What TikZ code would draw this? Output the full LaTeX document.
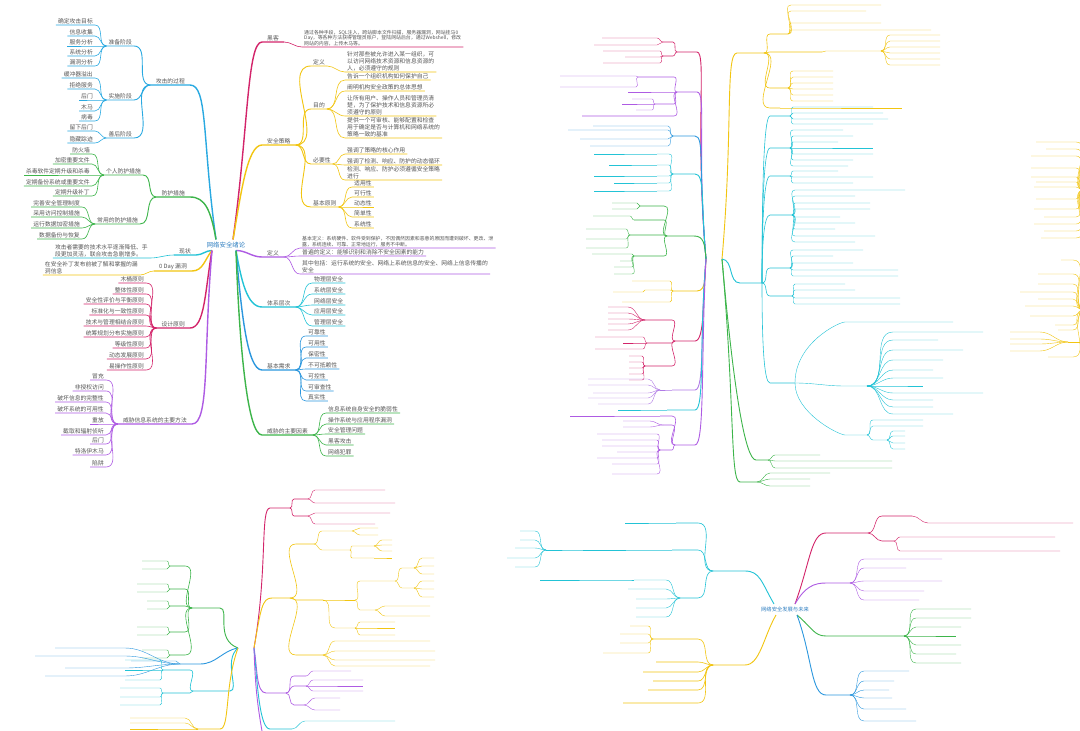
\documentclass[tikz,border=0pt]{standalone}
\usepackage{fontspec}
\setmainfont{Noto Sans CJK SC}
\usetikzlibrary{calc}
\definecolor{txt}{HTML}{555555}
\definecolor{rootc}{HTML}{2F7FC1}
\definecolor{cA}{HTML}{29A9E1}
\definecolor{cG}{HTML}{3DB54A}
\definecolor{cC}{HTML}{22C3D6}
\definecolor{cY}{HTML}{F2C511}
\definecolor{cR}{HTML}{D3246A}
\definecolor{cP}{HTML}{AE5BE3}
\definecolor{cB}{HTML}{2B97DE}
\definecolor{cL}{HTML}{B07AE6}
\tikzset{
 lab/.style={font=\fontsize{5.8}{6.8}\selectfont,text=txt,inner xsep=2pt,inner ysep=0.8pt,align=left},
 mlab/.style={inner xsep=5pt},
 sml/.style={font=\fontsize{4.9}{5.6}\selectfont},
 rootlab/.style={font=\fontsize{6.4}{7.5}\selectfont,text=rootc,inner sep=1pt},
 lc/.style={out=180,in=0},
 rc/.style={out=0,in=180},
 w0/.style={line width=.4pt},
 w1/.style={line width=.6pt},
 w2/.style={line width=.9pt},
 w3/.style={line width=1.4pt},
 line cap=round
}
\newcommand\Lc[6][]{%
 \node[lab,anchor=south east,#1] (#4) at #5 {#6};
 \draw[lc,#2] (#3) to (#4.south east) -- (#4.south west);}
\newcommand\Rc[6][]{%
 \node[lab,anchor=south west,#1] (#4) at #5 {#6};
 \draw[rc,#2] (#3) to (#4.south west) -- (#4.south east);}
\newcommand\Ll[5]{\coordinate (#3) at #4; \coordinate (#3w) at ($#4+(-#5,0)$);
 \draw[lc,#1] (#2) to (#3) -- (#3w);}
\newcommand\Rl[5]{\coordinate (#3) at #4; \coordinate (#3e) at ($#4+(#5,0)$);
 \draw[rc,#1] (#2) to (#3) -- (#3e);}
\newcommand\Lx[4]{\draw[lc,#1] (#2) to #3 -- ++(-#4,0);}
\newcommand\Rx[4]{\draw[rc,#1] (#2) to #3 -- ++(#4,0);}
\begin{document}
\begin{tikzpicture}[x=1pt,y=1pt]
\fill[white] (0,0) rectangle (1080,-731);
\useasboundingbox (0,0) rectangle (1080,-731);
%% ================= MAP 1 : top left =================
\node[rootlab] (R1) at (226,-245) {网络安全绪论};
\coordinate (R1Lt) at (216,-239.5);
\coordinate (R1Rt) at (233,-239.5);
\coordinate (R1Lb) at (212,-250.5);
\coordinate (R1Rb) at (236,-250.5);
% left side
\Lc[mlab]{cA,w3,out=98,in=0,out distance=100pt,in distance=18pt}{R1Lt}{a1}{(190,-85)}{攻击的过程}
\Lc{cA,w2}{a1.south west}{a11}{(134,-46)}{准备阶段}
\Lc{cA,w1}{a11.south west}{a111}{(95,-25)}{确定攻击目标}
\Lc{cA,w1}{a11.south west}{a112}{(95,-36)}{信息收集}
\Lc{cA,w1}{a11.south west}{a113}{(95,-46)}{服务分析}
\Lc{cA,w1}{a11.south west}{a114}{(95,-56)}{系统分析}
\Lc{cA,w1}{a11.south west}{a115}{(95,-66)}{漏洞分析}
\Lc{cA,w2}{a1.south west}{a12}{(134,-100)}{实施阶段}
\Lc{cA,w1}{a12.south west}{a121}{(95,-78)}{缓冲器溢出}
\Lc{cA,w1}{a12.south west}{a122}{(95,-89)}{拒绝服务}
\Lc{cA,w1}{a12.south west}{a123}{(95,-100)}{后门}
\Lc{cA,w1}{a12.south west}{a124}{(95,-111)}{木马}
\Lc{cA,w1}{a12.south west}{a125}{(95,-121)}{病毒}
\Lc{cA,w2}{a1.south west}{a13}{(134,-138)}{善后阶段}
\Lc{cA,w1}{a13.south west}{a131}{(95,-131)}{留下后门}
\Lc{cA,w1}{a13.south west}{a132}{(95,-143)}{隐藏踪迹}
\Lc[mlab]{cG,w3,out=100,in=0,out distance=30pt,in distance=15pt}{R1Lt}{b1}{(190,-197)}{防护措施}
\Lc{cG,w2}{b1.south west}{b11}{(143,-175)}{个人防护措施}
\Lc{cG,w1}{b11.south west}{b111}{(92,-154)}{防火墙}
\Lc{cG,w1}{b11.south west}{b112}{(92,-164)}{加密重要文件}
\Lc{cG,w1}{b11.south west}{b113}{(92,-175)}{杀毒软件定期升级和杀毒}
\Lc{cG,w1}{b11.south west}{b114}{(92,-186)}{定期备份系统或重要文件}
\Lc{cG,w1}{b11.south west}{b115}{(92,-196)}{定期升级补丁}
\Lc{cG,w2}{b1.south west}{b12}{(140,-224)}{常用的防护措施}
\Lc{cG,w1}{b12.south west}{b121}{(82,-207)}{完善安全管理制度}
\Lc{cG,w1}{b12.south west}{b122}{(82,-217)}{采用访问控制措施}
\Lc{cG,w1}{b12.south west}{b123}{(82,-228)}{运行数据加密措施}
\Lc{cG,w1}{b12.south west}{b124}{(82,-239)}{数据备份与恢复}
\Lc[mlab]{cC,w3,out=180,in=0}{R1Lb}{c1}{(196,-255)}{现状}
\Lc{cC,w1}{c1.south west}{c11}{(150,-258)}{攻击者需要的技术水平逐渐降低、手\\段更加灵活，联合攻击急剧增多。}
\Lc[mlab]{cY,w3,out=230,in=0}{R1Lb}{d1}{(192,-271)}{0 Day 漏洞}
\Lc{cY,w1}{d1.south west}{d11}{(140,-275)}{在安全补丁发布前被了解和掌握的漏\\洞信息}
\Lc[mlab]{cR,w3,out=-100,in=0,out distance=40pt,in distance=15pt}{R1Lb}{e1}{(190,-328)}{设计原则}
\Lc{cR,w1}{e1.south west}{e11}{(146,-283)}{木桶原则}
\Lc{cR,w1}{e1.south west}{e12}{(146,-294)}{整体性原则}
\Lc{cR,w1}{e1.south west}{e13}{(146,-304)}{安全性评价与平衡原则}
\Lc{cR,w1}{e1.south west}{e14}{(146,-315)}{标准化与一致性原则}
\Lc{cR,w1}{e1.south west}{e15}{(146,-326)}{技术与管理相结合原则}
\Lc{cR,w1}{e1.south west}{e16}{(146,-337)}{统筹规划分布实施原则}
\Lc{cR,w1}{e1.south west}{e17}{(146,-348)}{等级性原则}
\Lc{cR,w1}{e1.south west}{e18}{(146,-359)}{动态发展原则}
\Lc{cR,w1}{e1.south west}{e19}{(146,-370)}{易操作性原则}
\Lc[mlab]{cP,w3,out=-95,in=0,out distance=100pt,in distance=18pt}{R1Lb}{f1}{(192,-424)}{威胁信息系统的主要方法}
\Lc{cP,w1}{f1.south west}{f11}{(106,-380)}{冒充}
\Lc{cP,w1}{f1.south west}{f12}{(106,-391)}{非授权访问}
\Lc{cP,w1}{f1.south west}{f13}{(106,-402)}{破坏信息的完整性}
\Lc{cP,w1}{f1.south west}{f14}{(106,-413)}{破坏系统的可用性}
\Lc{cP,w1}{f1.south west}{f15}{(106,-424)}{重放}
\Lc{cP,w1}{f1.south west}{f16}{(106,-435)}{截取和辐射侦听}
\Lc{cP,w1}{f1.south west}{f17}{(106,-444)}{后门}
\Lc{cP,w1}{f1.south west}{f18}{(106,-455)}{特洛伊木马}
\Lc{cP,w1}{f1.south west}{f19}{(106,-467)}{陷阱}
% right side
\Rc[mlab]{cR,w3,out=82,in=180,out distance=110pt,in distance=15pt}{R1Rt}{g1}{(262,-42)}{黑客}
\Rc[sml]{cR,w1}{g1.south east}{g11}{(302,-47)}{通过各种手段，SQL注入，跨站脚本文件扫描，服务器漏洞，网站挂马0\\Day，等各种方法获得管理员账户，登陆网站后台，通过Webshell，修改\\网站的内容，上传木马等。}
\Rc[mlab]{cY,w3,out=80,in=180,out distance=45pt,in distance=15pt}{R1Rt}{h1}{(262,-145)}{安全策略}
\Rc{cY,w2}{h1.south east}{h11}{(311,-66)}{定义}
\Rc{cY,w1}{h11.south east}{h111}{(345,-72)}{针对那些被允许进入某一组织，可\\以访问网络技术资源和信息资源的\\人，必须遵守的规则}
\Rc{cY,w2}{h1.south east}{h12}{(311,-109)}{目的}
\Rc{cY,w1}{h12.south east}{h121}{(345,-80)}{告诉一个组织机构如何保护自己}
\Rc{cY,w1}{h12.south east}{h122}{(345,-91)}{阐明机构安全政策的总体思想}
\Rc{cY,w1}{h12.south east}{h123}{(345,-116)}{让所有用户、操作人员和管理员清\\楚，为了保护技术和信息资源所必\\须遵守的原则}
\Rc{cY,w1}{h12.south east}{h124}{(345,-138)}{提供一个可审核、能够配置和检查\\用于确定是否与计算机和网络系统的\\策略一致的基准}
\Rc{cY,w2}{h1.south east}{h13}{(311,-164)}{必要性}
\Rc{cY,w1}{h13.south east}{h131}{(345,-154)}{强调了策略的核心作用}
\Rc{cY,w1}{h13.south east}{h132}{(345,-165)}{强调了检测、响应、防护的动态循环}
\Rc{cY,w1}{h13.south east}{h133}{(345,-180)}{检测、响应、防护必须遵循安全策略\\进行}
\Rc{cY,w2}{h1.south east}{h14}{(311,-207)}{基本原则}
\Rc{cY,w1}{h14.south east}{h141}{(352,-187)}{适用性}
\Rc{cY,w1}{h14.south east}{h142}{(352,-197)}{可行性}
\Rc{cY,w1}{h14.south east}{h143}{(352,-207)}{动态性}
\Rc{cY,w1}{h14.south east}{h144}{(352,-217)}{简单性}
\Rc{cY,w1}{h14.south east}{h145}{(352,-228)}{系统性}
\Rc[mlab]{cP,w3,out=0,in=180}{R1Rb}{i1}{(262,-257)}{定义}
\Rc[sml]{cP,w1}{i1.south east}{i11}{(300,-248)}{基本定义：系统硬件、软件受到保护，不因偶然因素和恶意的原因而遭到破坏、更改、泄\\露，系统连续、可靠、正常地运行，服务不中断。}
\Rc{cP,w1}{i1.south east}{i12}{(300,-256)}{普遍的定义：能够识别和消除不安全因素的能力}
\Rc{cP,w1}{i1.south east}{i13}{(300,-274)}{其中包括：运行系统的安全、网络上系统信息的安全、网络上信息传播的\\安全}
\Rc[mlab]{cC,w3,out=-80,in=180,out distance=30pt,in distance=15pt}{R1Rb}{j1}{(262,-307)}{体系层次}
\Rc{cC,w1}{j1.south east}{j11}{(312,-283)}{物理层安全}
\Rc{cC,w1}{j1.south east}{j12}{(312,-294)}{系统层安全}
\Rc{cC,w1}{j1.south east}{j13}{(312,-305)}{网络层安全}
\Rc{cC,w1}{j1.south east}{j14}{(312,-315)}{应用层安全}
\Rc{cC,w1}{j1.south east}{j15}{(312,-326)}{管理层安全}
\Rc[mlab]{cB,w3,out=-85,in=180,out distance=60pt,in distance=15pt}{R1Rb}{k1}{(262,-370)}{基本需求}
\Rc{cB,w1}{k1.south east}{k11}{(306,-336)}{可靠性}
\Rc{cB,w1}{k1.south east}{k12}{(306,-347)}{可用性}
\Rc{cB,w1}{k1.south east}{k13}{(306,-358)}{保密性}
\Rc{cB,w1}{k1.south east}{k14}{(306,-369)}{不可抵赖性}
\Rc{cB,w1}{k1.south east}{k15}{(306,-380)}{可控性}
\Rc{cB,w1}{k1.south east}{k16}{(306,-391)}{可审查性}
\Rc{cB,w1}{k1.south east}{k17}{(306,-401)}{真实性}
\Rc[mlab]{cG,w3,out=-88,in=180,out distance=90pt,in distance=15pt}{R1Rb}{l1}{(262,-435)}{威胁的主要因素}
\Rc{cG,w1}{l1.south east}{l11}{(326,-413)}{信息系统自身安全的脆弱性}
\Rc{cG,w1}{l1.south east}{l12}{(326,-424)}{操作系统与应用程序漏洞}
\Rc{cG,w1}{l1.south east}{l13}{(326,-434)}{安全管理问题}
\Rc{cG,w1}{l1.south east}{l14}{(326,-445)}{黑客攻击}
\Rc{cG,w1}{l1.south east}{l15}{(326,-456)}{网络犯罪}
%% ================= MAP 2 : top right (skeleton) =================
\coordinate (Q1) at (706,-259); \coordinate (Q2) at (722,-259);
\Ll{cR,w2,out=95,in=0,out distance=130pt,in distance=10pt}{Q1}{q1}{(697,-52)}{20}
\Ll{cR,w1}{q1w}{q11}{(673,-42)}{10}
\foreach \y/\l in {-38/55,-45/63} {\Lx{cR,w0}{q11w}{(657,\y)}{\l}}
\Ll{cR,w1}{q1w}{q12}{(673,-56)}{10}
\foreach \y/\l in {-51/57,-57/35,-63/57} {\Lx{cR,w0}{q12w}{(660,\y)}{\l}}
\Ll{cP,w2,out=95,in=0,out distance=110pt,in distance=10pt}{Q1}{q2}{(697,-92)}{20}
\Ll{cP,w1}{q2w}{q21}{(674,-77)}{36}
\foreach \y/\l in {-76/76,-87/76} {\Lx{cP,w0}{q21w}{(636,\y)}{\l}}
\Lx{cP,w1}{q2w}{(674,-92)}{46}
\Ll{cP,w1}{q2w}{q23}{(674,-104)}{19}
\foreach \y/\l in {-99/20,-104/30,-110/16} {\Lx{cP,w0}{q23w}{(652,\y)}{\l}}
\Lx{cP,w1}{q2w}{(674,-116)}{92}
\Ll{cB,w2,out=95,in=0,out distance=90pt,in distance=10pt}{Q1}{q3}{(695,-136)}{22}
\foreach \y/\l in {-126/75,-130/100,-139/88,-146/78} {\Lx{cB,w0}{q3w}{(668,\y)}{\l}}
\Ll{cC,w2,out=95,in=0,out distance=60pt,in distance=10pt}{Q1}{q4}{(695,-174)}{22}
\foreach \y/\l [count=\i] in {-154/60,-165/45,-176/60,-183/40,-191/60} {\Ll{cC,w0}{q4w}{q4t\i}{(669,\y)}{12}\Lx{cC,w0}{q4t\i w}{(654,\y)}{\l}}
\Ll{cG,w2,out=95,in=0,out distance=15pt,in distance=10pt}{Q1}{q5}{(694,-236)}{27}
\Ll{cG,w1}{q5w}{q51}{(664,-206)}{24}
\foreach \y/\l in {-203/25,-209/25} {\Lx{cG,w0}{q51w}{(637,\y)}{\l}}
\Ll{cG,w1}{q5w}{q52}{(664,-220)}{30}
\Lx{cG,w0}{q52w}{(630,-216)}{37}
\Ll{cG,w1}{q5w}{q53}{(664,-235)}{34}
\foreach \y/\l in {-229/40,-239/40,-248/40} {\Lx{cG,w0}{q53w}{(626,\y)}{\l}}
\Ll{cG,w1}{q5w}{q54}{(664,-256)}{30}
\foreach \y/\l in {-254/40,-261/12,-267/18,-274/18} {\Lx{cG,w0}{q54w}{(632,\y)}{\l}}
\Ll{cY,w2,out=-95,in=0,out distance=15pt,in distance=10pt}{Q1}{q6}{(697,-291)}{24}
\foreach \y/\l in {-281/38,-302/48} {\Lx{cY,w0}{q6w}{(670,\y)}{\l}}
\Ll{cY,w0}{q6w}{q62}{(670,-290)}{25}
\Lx{cY,w0}{q62w}{(643,-292)}{30}
\Ll{cR,w2,out=-95,in=0,out distance=40pt,in distance=10pt}{Q1}{q7}{(695,-341)}{20}
\Ll{cR,w1}{q7w}{q71}{(672,-320)}{27}
\foreach \y in {-307,-313,-319,-324,-330} {\Lx{cR,w0}{q71w}{(628,\y)}{20}}
\Ll{cR,w1}{q7w}{q72}{(672,-343)}{25}
\foreach \y/\l in {-337/48,-343/20,-349/48} {\Lx{cR,w0}{q72w}{(643,\y)}{\l}}
\Ll{cR,w1}{q7w}{q73}{(672,-366)}{27}
\foreach \y in {-356,-362,-368,-374,-380} {\Lx{cR,w0}{q73w}{(642,\y)}{13}}
\Ll{cL,w2,out=-95,in=0,out distance=70pt,in distance=10pt}{Q1}{q8}{(695,-390)}{23}
\Ll{cL,w1}{q8w}{q81}{(670,-390)}{10}
\foreach \y/\l in {-379/60,-385/60,-393/55,-398/60,-404/50} {\Lx{cL,w0}{q81w}{(648,\y)}{\l}}
\Ll{cC,w2,out=-95,in=0,out distance=80pt,in distance=10pt}{Q1}{q9}{(695,-410)}{28}
\Lx{cC,w0}{q9w}{(663,-410)}{45}
\Ll{cP,w2,out=-93,in=0,out distance=100pt,in distance=10pt}{Q1}{q10}{(695,-445)}{20}
\Ll{cP,w1}{q10w}{q101}{(672,-416)}{12}
\Lx{cP,w0}{q101w}{(658,-416)}{88}
\Ll{cP,w1}{q10w}{q102}{(672,-425)}{9}
\foreach \y in {-421,-427} {\Lx{cP,w0}{q102w}{(650,\y)}{27}}
\Ll{cP,w1}{q10w}{q103}{(672,-450)}{12}
\foreach \y/\l in {-434/60,-440/55,-446/55,-452/40,-458/60,-464/45,-474/45} {\Lx{cP,w0}{q103w}{(657,\y)}{\l}}
\Rl{cG,w2,out=-85,in=180,out distance=150pt,in distance=10pt}{Q2}{qg1}{(740,-482)}{17}
\foreach \y/\l in {-473/60,-479/40,-486/40} {\Rx{cG,w0}{qg1e}{(770,\y)}{\l}}
\Rl{cG,w2,out=-85,in=180,out distance=140pt,in distance=10pt}{Q2}{qg2}{(756,-460)}{12}
\foreach \y/\l in {-455/45,-461/117,-468/117} {\Rx{cG,w0}{qg2e}{(775,\y)}{\l}}
\Rl{cY,w2,out=85,in=180,out distance=130pt,in distance=12pt}{Q2}{y1}{(737,-53)}{27}
\Rl{cY,w1}{y1e}{y11}{(770,-34)}{18}
\foreach \y/\l in {-5/90,-11/75,-23/90,-30/140} {\Rx{cY,w0}{y11e}{(791,\y)}{\l}}
\Rl{cY,w1}{y1e}{y12}{(770,-52)}{52}
\Rl{cY,w0}{y12e}{y121}{(826,-51)}{55}
\foreach \y in {-35,-41,-47,-53,-59,-65} {\Rx{cY,w0}{y121e}{(890,\y)}{50}}
\Rl{cY,w1}{y1e}{y13}{(770,-88)}{18}
\foreach \y in {-71,-77,-83,-89,-95,-101} {\Rx{cY,w0}{y13e}{(793,\y)}{40}}
\Rl{cY,w1}{y1e}{y14}{(770,-108)}{10}
\Rx{cY,w0}{y14e}{(782,-108)}{120}
\Rl{cC,w2,out=-5,in=180}{Q2}{z1}{(740,-283)}{22}
\Rl{cC,w1,out=90,in=180,out distance=100pt,in distance=6pt}{z1e}{z2}{(770,-116)}{20}
\foreach \y/\l in {-107/80,-113/90,-119/95,-124/80} {\Rx{cC,w0}{z2e}{(793,\y)}{\l}}
\Rl{cC,w1,out=90,in=180,out distance=80pt,in distance=6pt}{z1e}{z3}{(770,-148)}{20}
\foreach \y/\l in {-130/50,-136/60,-142/45,-148/80,-154/80,-160/60,-166/55} {\Rx{cC,w0}{z3e}{(793,\y)}{\l}}
\Rl{cC,w1,out=90,in=180,out distance=60pt,in distance=6pt}{z1e}{z4}{(770,-176)}{20}
\foreach \y/\l in {-171/45,-177/80,-183/60} {\Rx{cC,w0}{z4e}{(793,\y)}{\l}}
\Rl{cC,w1,out=90,in=180,out distance=40pt,in distance=6pt}{z1e}{z5}{(770,-215)}{22}
\foreach \y/\l in {-190/110,-196/60,-203/75,-209/75,-217/45,-223/60,-229/40,-236/80,-242/60} {\Rx{cC,w0}{z5e}{(795,\y)}{\l}}
\Rl{cC,w1}{z1e}{z6}{(770,-268)}{20}
\foreach \y/\l in {-250/70,-256/40,-263/60,-270/105,-276/105} {\Rx{cC,w0}{z6e}{(793,\y)}{\l}}
\Rl{cC,w1}{z1e}{z7}{(770,-296)}{22}
\foreach \y/\l in {-284/50,-290/60,-298/105,-304/105} {\Rx{cC,w0}{z7e}{(795,\y)}{\l}}
\Rl{cC,w1,out=-90,in=180,out distance=60pt,in distance=6pt}{z1e}{z8}{(770,-383)}{25}
\Rx{cC,w0,out=90,in=180,out distance=40pt,in distance=6pt}{z8e}{(845,-322)}{108}
\Rl{cC,w0}{z8e}{z81}{(845,-386)}{22}
\foreach \y/\l in {-332/90,-340/45,-350/70,-360/50,-370/40,-378/50,-386/30,-393/90,-400/40,-407/40,-414/60} {\Rx{cC,w0}{z81e}{(893,\y)}{\l}}
\Rl{cC,w0,out=-90,in=180,out distance=30pt,in distance=6pt}{z8e}{z82}{(845,-435)}{22}
\foreach \y in {-420,-426} {\Rx{cC,w0}{z82e}{(873,\y)}{50}}
\Rl{cC,w0}{z82e}{z821}{(873,-440)}{14}
\foreach \y in {-431,-436,-443,-449} {\Rx{cC,w0}{z821e}{(893,\y)}{12}}
%% ================= MAP 6 : right edge yellow =================
\coordinate (M6a) at (1084,-190); \coordinate (M6b) at (1084,-310);
\foreach \y/\l in {-142/40,-149/30,-156/45,-168/45,-177/45,-182/40,-187/42,-199/40,-209/42,-217/32,-224/42,-231/32,-238/35} {\Lx{cY,w0}{M6a}{(1076,\y)}{\l}}
\foreach \y/\l in {-260/12,-274/35,-284/35,-292/53,-299/35,-306/48,-316/43,-325/18,-330/15,-357/25} {\Lx{cY,w0}{M6b}{(1073,\y)}{\l}}
\coordinate (M6c) at (1068,-342);
\foreach \y in {-332,-339,-344,-351} {\Lx{cY,w0}{M6c}{(1040,\y)}{30}}
\draw[cY,w0] (M6c) -- (1084,-342);
%% ================= MAP 5 : bottom right =================
\node[rootlab,font=\fontsize{5.3}{6}\selectfont] (R5) at (785,-609) {网络安全发展与未来};
\coordinate (R5a) at (795,-604); \coordinate (R5b) at (797,-615);
\coordinate (R5c) at (774,-604); \coordinate (R5d) at (776,-615);
\Rl{cR,w2,out=70,in=180,out distance=45pt,in distance=15pt}{R5a}{m1}{(826,-533)}{42}
\Rl{cR,w1}{m1e}{m11}{(882,-516)}{30}
\Rx{cR,w0}{m11e}{(928,-523)}{145}
\Rl{cR,w1}{m1e}{m12}{(882,-541)}{12}
\Rx{cR,w0}{m12e}{(900,-537)}{155}
\Rx{cR,w0}{m12e}{(900,-551)}{160}
\Rl{cP,w2,out=60,in=180,out distance=20pt,in distance=12pt}{R5a}{m2}{(826,-583)}{24}
\foreach \y/\l in {-559/78,-568/42,-581/78,-591/60,-600/55} {\Rx{cP,w0}{m2e}{(864,\y)}{\l}}
\Rl{cG,w2,out=-40,in=180,out distance=20pt,in distance=12pt}{R5b}{m3}{(826,-636)}{78}
\foreach \y/\l in {-609/55,-618/55,-627/45,-636/40,-645/45,-654/40,-663/45} {\Rx{cG,w0}{m3e}{(916,\y)}{\l}}
\Rl{cB,w2,out=-70,in=180,out distance=45pt,in distance=15pt}{R5b}{m4}{(826,-695)}{24}
\foreach \y/\l in {-671/45,-681/30,-690/25,-698/28,-709/42,-721/52} {\Rx{cB,w0}{m4e}{(864,\y)}{\l}}
\Ll{cC,w2,out=120,in=0,out distance=25pt,in distance=15pt}{R5c}{n1}{(745,-571)}{32}
\Ll{cC,w1}{n1w}{n11}{(698,-523)}{22}
\Lx{cC,w0}{n11w}{(672,-523)}{47}
\Ll{cC,w1}{n1w}{n12}{(698,-550)}{26}
\Ll{cC,w0}{n12w}{n121}{(668,-550)}{85}
\Ll{cC,w0}{n121w}{n122}{(578,-550)}{32}
\foreach \y/\l in {-531/15,-540/15,-548/20,-558/28,-567/20} {\Lx{cC,w0}{n122w}{(535,\y)}{\l}}
\Ll{cC,w1}{n1w}{n13}{(698,-598)}{18}
\Ll{cC,w0}{n13w}{n131}{(666,-580)}{32}
\Lx{cC,w0}{n131w}{(618,-580)}{78}
\foreach \y/\l in {-589/38,-599/30,-608/30,-617/30} {\Lx{cC,w0}{n13w}{(666,\y)}{\l}}
\Ll{cY,w2,out=240,in=0,out distance=25pt,in distance=15pt}{R5d}{o1}{(745,-665)}{32}
\Ll{cY,w1}{o1w}{o11}{(698,-639)}{45}
\foreach \y/\l in {-626/18,-634/28,-643/28,-653/45} {\Lx{cY,w0}{o11w}{(648,\y)}{\l}}
\foreach \y/\l in {-662/42,-672/55,-681/45,-690/50,-703/75} {\Lx{cY,w1}{o1w}{(698,\y)}{\l}}
%% ================= MAP 3 : bottom left (skeleton) =================
\coordinate (S1) at (238,-648); \coordinate (S2) at (254,-648);
\Rl{cR,w2,out=80,in=180,out distance=80pt,in distance=10pt}{S2}{t1}{(270,-508)}{20}
\Rl{cR,w1}{t1e}{t11}{(294,-499)}{14}
\foreach \y/\l in {-490/70,-503/80} {\Rx{cR,w0}{t11e}{(315,\y)}{\l}}
\Rl{cR,w1}{t1e}{t12}{(294,-516)}{14}
\foreach \y/\l in {-513/75,-524/60} {\Rx{cR,w0}{t12e}{(315,\y)}{\l}}
\Rl{cY,w2,out=80,in=180,out distance=40pt,in distance=10pt}{S2}{t2}{(272,-598)}{18}
\Rl{cY,w1}{t2e}{t21}{(296,-544)}{18}
\Rl{cY,w0}{t21e}{t211}{(322,-531)}{30}
\foreach \y in {-528,-535} {\Rx{cY,w0}{t211e}{(360,\y)}{18}}
\Rl{cY,w0}{t21e}{t212}{(322,-550)}{28}
\Rl{cY,w0}{t212e}{t2121}{(352,-546)}{22}
\foreach \y in {-540,-545,-551} {\Rx{cY,w0}{t2121e}{(382,\y)}{10}}
\Rl{cY,w0}{t212e}{t2122}{(352,-558)}{22}
\Rx{cY,w0}{t2122e}{(382,-558)}{10}
\Rl{cY,w1}{t2e}{t22}{(296,-600)}{27}
\Rl{cY,w0}{t22e}{t221}{(335,-600)}{20}
\Rl{cY,w0}{t221e}{t2211}{(360,-581)}{35}
\Rl{cY,w0}{t2211e}{t22111}{(402,-568)}{12}
\foreach \y in {-558,-566,-574} {\Rx{cY,w0}{t22111e}{(422,\y)}{12}}
\Rl{cY,w0}{t2211e}{t22112}{(402,-588)}{12}
\foreach \y in {-581,-589,-597} {\Rx{cY,w0}{t22112e}{(422,\y)}{12}}
\Rl{cY,w0}{t221e}{t2212}{(360,-610)}{15}
\foreach \y in {-606,-616} {\Rx{cY,w0}{t2212e}{(385,\y)}{45}}
\Rl{cY,w0}{t22e}{t222}{(335,-628)}{20}
\foreach \y in {-622,-628,-635} {\Rx{cY,w0}{t222e}{(360,\y)}{35}}
\Rl{cY,w1}{t2e}{t23}{(296,-655)}{27}
\foreach \y/\l in {-641/95,-651/100,-660/100,-666/95} {\Rx{cY,w0}{t23e}{(335,\y)}{\l}}
\Ll{cG,w2,out=160,in=0,out distance=25pt,in distance=10pt}{S1}{t3}{(220,-608)}{28}
\foreach \y/\l [count=\i] in {-566/25,-589/30,-606/20,-632/30,-655/25} {\Ll{cG,w1}{t3w}{t3s\i}{(185,\y)}{15}\Lx{cG,w0}{t3s\i w}{(167,\y-3)}{\l}\Lx{cG,w0}{t3s\i w}{(167,\y+5)}{\l}}
\Ll{cB,w2,out=190,in=0}{S1}{t4}{(200,-664)}{20}
\Lx{cB,w0}{t4w}{(176,-661)}{45}
\foreach \y/\l in {-648/70,-656/90,-668/60,-676/80} {\Lx{cB,w0}{t4w}{(125,\y)}{\l}}
\Ll{cC,w2,out=220,in=0,out distance=20pt,in distance=10pt}{S1}{t5}{(230,-691)}{37}
\Ll{cC,w1}{t5w}{t51}{(190,-670)}{27}
\foreach \y in {-660,-670,-680} {\Lx{cC,w0}{t51w}{(160,\y)}{35}}
\Ll{cC,w1}{t5w}{t52}{(190,-693)}{27}
\foreach \y in {-688,-697,-705} {\Lx{cC,w0}{t52w}{(160,\y)}{40}}
\Ll{cY,w2,out=-110,in=0,out distance=40pt,in distance=10pt}{S1}{t6}{(220,-729)}{22}
\foreach \y/\l in {-718/55,-723/55,-729/55} {\Lx{cY,w0}{t6w}{(185,\y)}{\l}}
\Rl{cP,w2,out=-80,in=180,out distance=20pt,in distance=10pt}{S2}{t7}{(266,-693)}{20}
\Rl{cP,w1}{t7e}{t71}{(294,-676)}{12}
\Rx{cP,w0}{t71e}{(313,-671)}{38}
\Rl{cP,w1}{t7e}{t72}{(294,-686)}{12}
\foreach \y in {-680,-686,-691} {\Rx{cP,w0}{t72e}{(313,\y)}{50}}
\Rl{cP,w1}{t7e}{t73}{(294,-705)}{10}
\foreach \y in {-698,-710} {\Rx{cP,w0}{t73e}{(315,\y)}{25}}
\Rl{cC,w2,out=-85,in=180,out distance=40pt,in distance=10pt}{S2}{t8}{(270,-729)}{22}
\Rx{cC,w0}{t8e}{(305,-721)}{90}
\draw[cP,w2] (S2) to[out=-88,in=100] (262,-731);
\end{tikzpicture}
\end{document}
